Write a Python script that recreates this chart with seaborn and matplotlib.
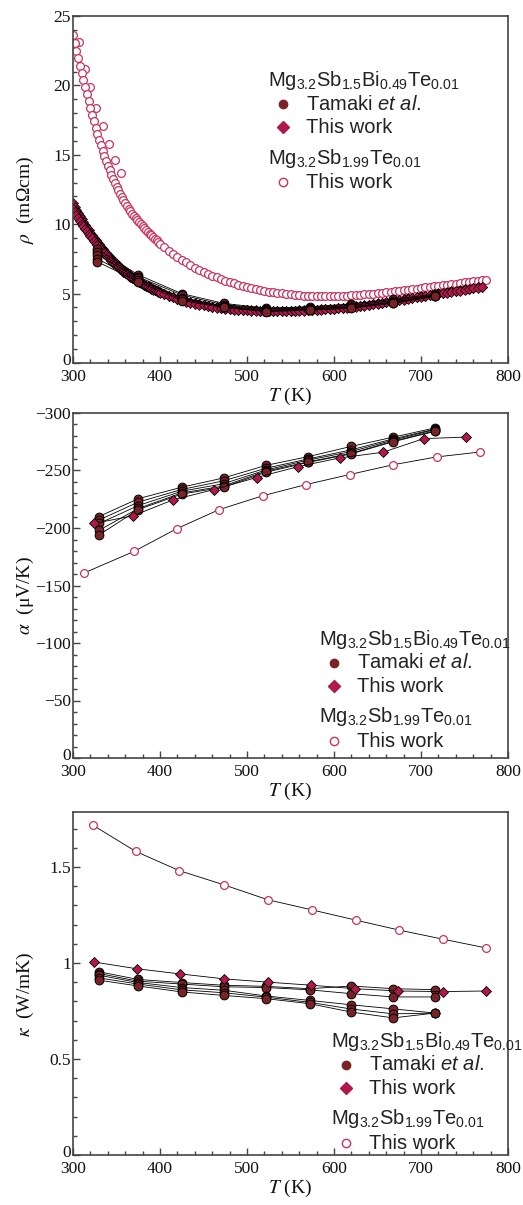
import numpy as np
import pandas as pd
import matplotlib
matplotlib.use("Agg")
import matplotlib.pyplot as plt
import matplotlib.transforms as mtrans
from matplotlib.lines import Line2D
from matplotlib.ticker import MultipleLocator, FuncFormatter
import seaborn as sns

# ---------------- data ----------------
# Panel 1: resistivity rho (mOhm cm)
T_rho_open = [300, 302, 304, 306, 308, 310, 312, 314, 316, 318, 320, 322, 324, 326, 328, 330,
              332, 334, 336, 338, 340, 342, 344, 346, 348, 350, 352, 354, 356, 358, 360, 362,
              364, 366, 368, 370, 372, 374, 376, 378, 380, 382, 384, 386, 388, 390, 392, 394,
              396, 398, 400, 405, 410, 415, 420, 425, 430, 435, 440, 445, 450, 455,
              460, 465, 470, 475, 480, 485, 490, 495, 500, 505, 510, 515, 520, 525, 530, 535,
              540, 545, 550, 555, 560, 565, 570, 575, 580, 585, 590, 595, 600, 605, 610, 615,
              620, 625, 630, 635, 640, 645, 650, 655, 660, 665, 670, 675, 680, 685, 690, 695,
              700, 705, 710, 715, 720, 725, 730, 735, 740, 745, 750, 755, 760, 765, 770, 775]
rho_open = [23.6, 23.05, 22.5, 21.95, 21.4, 20.9, 20.4, 19.85, 19.35, 18.85, 18.4, 17.9, 17.45, 16.95, 16.5, 16.1,
            15.7, 15.3, 14.9, 14.55, 14.2, 13.88, 13.56, 13.25, 12.97, 12.7, 12.45, 12.2, 11.98, 11.75, 11.5, 11.3,
            11.1, 10.92, 10.75, 10.6, 10.43, 10.28, 10.13, 9.99, 9.85, 9.71, 9.57, 9.44, 9.32, 9.2, 9.08, 8.96,
            8.84, 8.72, 8.6, 8.35, 8.1, 7.87, 7.65, 7.45, 7.25, 7.06, 6.88, 6.72, 6.57, 6.43,
            6.3, 6.17, 6.05, 5.94, 5.84, 5.74, 5.65, 5.56, 5.48, 5.41, 5.34, 5.27, 5.21, 5.15, 5.1, 5.05,
            5.01, 4.97, 4.94, 4.91, 4.88, 4.86, 4.84, 4.83, 4.82, 4.81, 4.81, 4.81, 4.82, 4.83, 4.84, 4.86,
            4.88, 4.9, 4.92, 4.95, 4.97, 5.0, 5.03, 5.06, 5.09, 5.13, 5.16, 5.2, 5.24, 5.28, 5.32, 5.36,
            5.4, 5.44, 5.48, 5.52, 5.56, 5.6, 5.64, 5.68, 5.72, 5.76, 5.8, 5.84, 5.88, 5.92, 5.96, 6.0]
# second (sparser, offset) open-circle run at low T
T_rho_open_b = [307, 314, 320, 327, 335, 341, 348, 355]
rho_open_b = [23.1, 21.15, 19.9, 18.35, 17.05, 15.8, 14.65, 13.7]

T_rho_this = [300, 302, 304, 306, 308, 310, 312, 314, 316, 318, 320, 322, 324, 326, 328, 330,
              332, 334, 336, 338, 340, 342, 344, 346, 348, 350, 352, 354, 356, 358, 360, 362,
              364, 366, 368, 370, 372, 374, 376, 378, 380, 382, 384, 386, 388, 390, 392, 394,
              396, 398, 400, 405, 410, 415, 420, 425, 430, 435, 440, 445, 450, 455,
              460, 465, 470, 475, 480, 485, 490, 495, 500, 505, 510, 515, 520, 525, 530, 535,
              540, 545, 550, 555, 560, 565, 570, 575, 580, 585, 590, 595, 600, 605, 610, 615,
              620, 625, 630, 635, 640, 645, 650, 655, 660, 665, 670, 675, 680, 685, 690, 695,
              700, 705, 710, 715, 720, 725, 730, 735, 740, 745, 750, 755, 760, 765, 770]
rho_this_1 = [11.5, 11.26, 11.02, 10.79, 10.56, 10.35, 10.15, 9.95, 9.76, 9.58, 9.4, 9.22, 9.04, 8.87, 8.71, 8.55,
              8.39, 8.23, 8.08, 7.94, 7.8, 7.66, 7.52, 7.38, 7.25, 7.12, 7.01, 6.9, 6.79, 6.69, 6.58, 6.48,
              6.38, 6.28, 6.19, 6.1, 6.02, 5.94, 5.86, 5.79, 5.72, 5.65, 5.58, 5.52, 5.46, 5.4, 5.34, 5.28,
              5.22, 5.16, 5.1, 4.97, 4.85, 4.74, 4.63, 4.53, 4.44, 4.36, 4.29, 4.22, 4.16, 4.1,
              4.05, 4.0, 3.96, 3.93, 3.9, 3.87, 3.85, 3.83, 3.81, 3.8, 3.79, 3.78, 3.78, 3.77, 3.77, 3.77,
              3.77, 3.77, 3.78, 3.78, 3.79, 3.8, 3.81, 3.82, 3.84, 3.86, 3.88, 3.9, 3.92, 3.95, 3.98, 4.01,
              4.05, 4.09, 4.13, 4.17, 4.21, 4.26, 4.3, 4.35, 4.4, 4.45, 4.5, 4.55, 4.6, 4.65, 4.7, 4.75,
              4.8, 4.86, 4.91, 4.96, 5.01, 5.06, 5.11, 5.16, 5.2, 5.25, 5.3, 5.35, 5.4, 5.45, 5.5]
rho_this_2 = [11.1, 10.88, 10.66, 10.45, 10.25, 10.05, 9.86, 9.67, 9.48, 9.3, 9.13, 8.97, 8.8, 8.64, 8.48, 8.33,
              8.18, 8.03, 7.89, 7.75, 7.62, 7.49, 7.36, 7.24, 7.12, 7.0, 6.89, 6.78, 6.68, 6.58, 6.48, 6.39,
              6.3, 6.21, 6.12, 6.03, 5.95, 5.88, 5.81, 5.73, 5.66, 5.6, 5.53, 5.47, 5.41, 5.35, 5.29, 5.24,
              5.18, 5.13, 5.07, 4.95, 4.83, 4.72, 4.62, 4.52, 4.43, 4.35, 4.28, 4.21, 4.15, 4.09,
              4.04, 3.99, 3.95, 3.91, 3.88, 3.85, 3.83, 3.81, 3.79, 3.78, 3.77, 3.76, 3.75, 3.75, 3.75, 3.75,
              3.75, 3.75, 3.75, 3.76, 3.77, 3.78, 3.79, 3.8, 3.82, 3.84, 3.86, 3.88, 3.9, 3.93, 3.96, 3.99,
              4.02, 4.06, 4.1, 4.14, 4.18, 4.22, 4.27, 4.32, 4.37, 4.42, 4.47, 4.52, 4.57, 4.62, 4.67, 4.72,
              4.77, 4.82, 4.87, 4.92, 4.97, 5.02, 5.07, 5.12, 5.17, 5.22, 5.27, 5.32, 5.37, 5.42, 5.47]

T_rho_tam = [328, 375, 425, 473, 522, 572, 620, 668, 716]
rho_tam_1 = [8.2, 6.35, 5.0, 4.3, 3.95, 4.05, 4.25, 4.6, 4.95]
rho_tam_2 = [8.0, 6.2, 4.9, 4.2, 3.9, 3.95, 4.15, 4.5, 4.9]
rho_tam_3 = [7.8, 6.1, 4.7, 4.1, 3.8, 3.9, 4.05, 4.4, 4.85]
rho_tam_4 = [7.5, 6.0, 4.6, 4.05, 3.75, 3.85, 4.0, 4.35, 4.8]
rho_tam_5 = [7.3, 5.85, 4.5, 4.0, 3.7, 3.8, 3.95, 4.3, 4.8]

# Panel 2: Seebeck alpha (uV/K)
T_a_open = [313, 370, 419, 468, 518, 568, 618, 668, 718, 768]
a_open = [-161, -179.6, -199.3, -216, -228, -237.8, -246.5, -255, -261.8, -266.1]
T_a_this = [324, 369, 415, 462, 511, 559, 607, 656, 703, 752]
a_this = [-204, -210.6, -224.5, -233.4, -243.9, -253.4, -261, -265.8, -277.7, -279.1]
T_a_tam = [330, 375, 425, 473, 522, 570, 620, 668, 716]
a_tam_1 = [-210, -225.5, -235.5, -243.5, -254.5, -262, -271, -279, -287]
a_tam_2 = [-207, -222.5, -233.5, -241, -252, -260, -268, -277.5, -286]
a_tam_3 = [-204, -219.5, -232, -238.5, -250.5, -259, -266.5, -276.5, -285.5]
a_tam_4 = [-198, -217, -230.5, -236.5, -249.5, -257.5, -265, -275.5, -284.5]
a_tam_5 = [-194, -216, -229.5, -235.5, -248.5, -257, -264.5, -275, -284]

# Panel 3: thermal conductivity kappa (W/mK)
T_k_open = [323, 372, 422, 474, 524, 575, 625, 675, 725, 775]
k_open = [1.717, 1.581, 1.481, 1.406, 1.329, 1.276, 1.223, 1.171, 1.124, 1.078]
T_k_this = [324, 373, 423, 474, 524, 574, 624, 674, 725, 775]
k_this = [1.005, 0.970, 0.943, 0.917, 0.900, 0.884, 0.866, 0.854, 0.851, 0.854]
T_k_tam = [330, 375, 425, 473, 522, 572, 620, 668, 716]
k_tam_1 = [0.954, 0.914, 0.898, 0.884, 0.878, 0.866, 0.880, 0.866, 0.861]
k_tam_2 = [0.945, 0.905, 0.890, 0.876, 0.872, 0.860, 0.840, 0.823, 0.823]
k_tam_3 = [0.936, 0.898, 0.872, 0.858, 0.828, 0.805, 0.782, 0.761, 0.739]
k_tam_4 = [0.922, 0.890, 0.860, 0.845, 0.822, 0.795, 0.760, 0.735, 0.739]
k_tam_5 = [0.910, 0.880, 0.849, 0.831, 0.814, 0.788, 0.744, 0.714, 0.739]

# labels
header_1 = r"Mg$_{3.2}$Sb$_{1.5}$Bi$_{0.49}$Te$_{0.01}$"
header_2 = r"Mg$_{3.2}$Sb$_{1.99}$Te$_{0.01}$"
lab_tam = r"Tamaki $\mathit{et\ al.}$"
lab_this = "This work"
ylabels = [r"$\rho$  (mΩcm)", r"$\alpha$  (μV/K)", r"$\kappa$  (W/mK)"]
xlabel = r"$T$ (K)"

# ---------------- style ----------------
TAM = "#7a2226"
DIA = "#b2194b"
OPEN = "#c9345e"
SPINE = "#444444"

sns.set_theme(style="ticks")
plt.rcParams.update({
    "font.family": ["Liberation Serif", "DejaVu Serif"],
    "mathtext.fontset": "custom",
    "mathtext.rm": "Liberation Sans",
    "mathtext.it": "Liberation Sans:italic",
    "mathtext.bf": "Liberation Sans:bold",
    "axes.unicode_minus": True,
})

W, H = 523, 1205
fig = plt.figure(figsize=(W / 100, H / 100), dpi=100)
fig.patch.set_facecolor("white")


def add_axes_px(left, top, right, bottom):
    return fig.add_axes([left / W, 1 - bottom / H, (right - left) / W, (bottom - top) / H])


ax1 = add_axes_px(73, 16, 508, 363)
ax2 = add_axes_px(73, 413, 508, 758)
ax3 = add_axes_px(73, 812, 508, 1155)


def long_df(T, series):
    rows = []
    for name, vals in series.items():
        for t, v in zip(T, vals):
            rows.append({"T": t, "v": v, "unit": name})
    return pd.DataFrame(rows)


def draw_lines(ax, df, marker, ms, mfc, mec, mew=0.7, lw=0.6):
    sns.lineplot(data=df, x="T", y="v", units="unit", estimator=None, sort=False,
                 color="black", lw=lw, marker=marker, markersize=ms,
                 markerfacecolor=mfc, markeredgecolor=mec, markeredgewidth=mew,
                 ax=ax, legend=False)


# Panel 1
draw_lines(ax1, long_df(T_rho_open_b, {"ob": rho_open_b}), "o", 5.6, "white", OPEN, mew=0.9, lw=0.0)
draw_lines(ax1, long_df(T_rho_open, {"o": rho_open}), "o", 5.6, "white", OPEN, mew=0.9, lw=0.0)
draw_lines(ax1, long_df(T_rho_this, {"d1": rho_this_1, "d2": rho_this_2}), "D", 4.8, DIA, "black", mew=0.5)
draw_lines(ax1, long_df(T_rho_tam, {"t1": rho_tam_1, "t2": rho_tam_2, "t3": rho_tam_3,
                                    "t4": rho_tam_4, "t5": rho_tam_5}), "o", 6.3, TAM, "black")

# Panel 2
draw_lines(ax2, long_df(T_a_open, {"o": a_open}), "o", 5.6, "white", OPEN, mew=0.9)
draw_lines(ax2, long_df(T_a_tam, {"t1": a_tam_1, "t2": a_tam_2, "t3": a_tam_3,
                                  "t4": a_tam_4, "t5": a_tam_5}), "o", 6.3, TAM, "black")
draw_lines(ax2, long_df(T_a_this, {"d": a_this}), "D", 5.2, DIA, "black", mew=0.6)

# Panel 3
draw_lines(ax3, long_df(T_k_open, {"o": k_open}), "o", 5.6, "white", OPEN, mew=0.9)
draw_lines(ax3, long_df(T_k_tam, {"t1": k_tam_1, "t2": k_tam_2, "t3": k_tam_3,
                                  "t4": k_tam_4, "t5": k_tam_5}), "o", 6.3, TAM, "black")
draw_lines(ax3, long_df(T_k_this, {"d": k_this}), "D", 5.2, DIA, "black", mew=0.6)

# axes formatting
ax1.set_ylim(0, 25)
ax1.yaxis.set_major_locator(MultipleLocator(5))
ax1.yaxis.set_minor_locator(MultipleLocator(1))
ax2.set_ylim(0, -300)
ax2.yaxis.set_major_locator(MultipleLocator(50))
ax2.yaxis.set_minor_locator(MultipleLocator(10))
ax3.set_ylim(0, 1.786)
ax3.yaxis.set_major_locator(MultipleLocator(0.5))
ax3.yaxis.set_minor_locator(MultipleLocator(0.1))
ax3.yaxis.set_major_formatter(FuncFormatter(lambda v, p: f"{v:g}"))

for ax, yl in zip((ax1, ax2, ax3), ylabels):
    ax.set_xlim(300, 800)
    ax.xaxis.set_major_locator(MultipleLocator(100))
    ax.xaxis.set_minor_locator(MultipleLocator(20))
    ax.tick_params(which="both", direction="in", top=False, right=False,
                   color=SPINE, width=1.0, labelsize=12.5, labelcolor="#111111")
    ax.tick_params(axis="y", pad=1.5)
    ax.tick_params(axis="x", pad=4.0)
    ax.tick_params(which="major", length=5)
    ax.tick_params(which="minor", length=3)
    for s in ax.spines.values():
        s.set_color(SPINE)
        s.set_linewidth(1.2)
        s.set_visible(True)
    ax.set_facecolor("white")
    ax.set_xlabel(xlabel, fontsize=14, math_fontfamily="stix", color="#111111", labelpad=1)
    ax.set_ylabel(yl, fontsize=14, math_fontfamily="stix", color="#111111")
    ax.yaxis.set_label_coords(-0.085, 0.47)
    ax.grid(False)


# manual legends (figure pixel coordinates)
def fx(x):
    return x / W


def fy(y):
    return 1 - y / H


def legend(xh, yb):
    tk = dict(fontsize=14.5, family="Liberation Sans", va="baseline", ha="left",
              color="#222222", math_fontfamily="custom")
    xm, xt = xh + 15, xh + 38
    fig.text(fx(xh), fy(yb), header_1, **tk)
    fig.add_artist(Line2D([fx(xm)], [fy(yb + 18)], transform=fig.transFigure, ls="",
                          marker="o", ms=6.0, mfc=TAM, mec=TAM))
    fig.text(fx(xt), fy(yb + 23.5), lab_tam, **tk)
    fig.add_artist(Line2D([fx(xm)], [fy(yb + 41)], transform=fig.transFigure, ls="",
                          marker="D", ms=6.3, mfc=DIA, mec=DIA))
    fig.text(fx(xt), fy(yb + 47), lab_this, **tk)
    fig.text(fx(xh), fy(yb + 77.5), header_2, **tk)
    fig.add_artist(Line2D([fx(xm)], [fy(yb + 96)], transform=fig.transFigure, ls="",
                          marker="o", ms=6.0, mfc="white", mec=OPEN, mew=1.0))
    fig.text(fx(xt), fy(yb + 102), lab_this, **tk)


legend(268, 86)
legend(319, 645)
legend(331, 1046.7)

# lift the "0" y tick label slightly so it clears the "300" x tick label
fig.canvas.draw()
lift = mtrans.ScaledTranslation(0, 2.8 / 72, fig.dpi_scale_trans)
for ax in (ax1, ax2, ax3):
    for tick in ax.yaxis.get_major_ticks():
        if abs(tick.get_loc()) < 1e-9:
            tick.label1.set_transform(tick.label1.get_transform() + lift)

fig.savefig("out.png", dpi=100, facecolor="white")
